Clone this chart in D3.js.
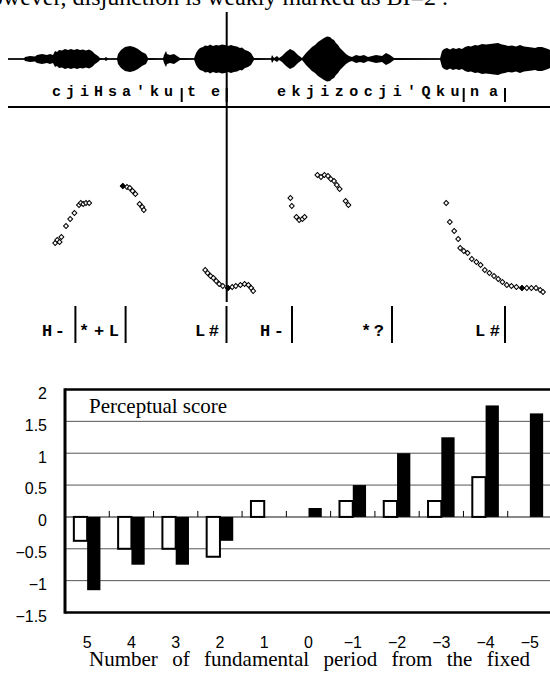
<!DOCTYPE html>
<html>
<head>
<meta charset="utf-8">
<script src="https://cdn.jsdelivr.net/npm/d3@7"></script>
<style>
body { margin: 0; background: #fff; }
svg { display: block; }
</style>
</head>
<body>
<script>
var width = 550,
	height = 673;

// ---- waveform envelope: [time (cs), amplitude] ----
var waveEnv = [
	[0,0.5],[8,0.5],[8.5,2],[11,3],[13.5,2.5],[14.5,4],[17,5],[19.5,4],[21,5],[22.5,4],
	[23.5,8],[24.5,7],[25.5,9],[27,8.5],[28.5,10],[30,9],[31.5,10],[33,9],[34.5,10],[36,9],
	[37.5,9.5],[39,8.5],[40.5,9.5],[42,8],[43.5,5],[45,3],
	[46,1],[48,0.5],[49,2],[50,0.5],[54.5,0.5],[55,5],[56.5,9],[58.5,12],[61,13],[63,12],
	[65,10],[67,7],[69,5],[70,1],[77.5,0.5],[78,4],[79,8],[79.5,5],[81,4],[83,5],
	[84.5,3],[86,1],[93,0.5],
	[94,6],[95,9],[96,11],[97.5,12],[98.5,13.5],[100,13],[101,14.5],[102.5,13],[104,14],[105.5,13.5],
	[107,14.5],[108.5,14],[110,13],[111.5,14],[113,13],[114.5,12.5],[116,11],[117,11.5],[118.5,9],[120,8],
	[121.5,6],[123,1],
	[131.5,0.5],[132,4],[133,1],[134.5,3],[135.5,1],[137,3],[139,7],[141,10],[143,8],[145,4],[147,1],
	[149,6],[150.5,9],[152,12],[153.5,14],[155,17],[156.5,19],[158,21],[159.5,22.5],[161,22],[162,20],
	[163,19],[164,16],[165,14],[166,11],[167,9],[168,7],[169,5],[170.5,3],
	[172,2],[174,4],[176,3],[178,4],[180,2],[182,3],[184,4],[187,3],[189,6],[191,4],[193,1],
	[216,0.5],[217,8],[218,10],[219.5,11],[221,9.5],[222.5,11],[224,10],[225.5,11],[227,10],[228.5,12],
	[230,13],[231.5,12.5],[233.5,14],[235,13.5],[237,15],[239,14.5],[241,15],[243,15.5],[245,16],[247,14.5],
	[248.5,14],[250,13],[252,13.5],[254,12.5],[256,14],[258,12.5],[260,12],[262,11.5],[263.5,11],[265,12],
	[267,12],[268.5,11],[270,10],[271,9]
];

// ---- F0 track: [time (cs), Hz] and the marked (filled) points ----
var pitchPts = [
	[23.6,152],[24.6,155],[25.8,153],[26.7,158],[29.0,169],[31.1,176],[33.2,182],[35.5,190],
	[36.4,192],[37.6,191],[39.0,192],[40.6,192],
	[57.4,209],[59.5,208],[60.9,207],[62.3,204],[63.7,201],[65.8,191],[67.1,188],[67.9,185],
	[98.6,125],[99.8,122],[101.3,119],[102.7,117],[104.1,114],[105.6,111],[107.4,109],[110.0,107],
	[112.1,108],[113.9,109],[116.2,110],[118.3,111],[120.2,110],[121.6,107],[122.6,104],
	[141.2,197],[141.9,189],[144.2,178],[145.6,175],[147.2,176],[148.3,178],
	[154.7,220],[156.5,218],[158.2,220],[160.0,219],[161.4,216],[163.0,214],[164.4,210],[165.8,206],
	[168.8,194],[170.2,190],
	[219.1,192],[220.9,173],[223.1,164],[225.1,156],[226.1,147],[227.9,144],[229.8,142],[231.9,136],
	[234.2,133],[236.3,130],[238.4,125],[240.7,122],[243.0,119],[245.1,116],[247.2,113],[249.4,110],
	[251.7,109],[254.2,108],[257.0,107],[259.4,107],[261.7,107],[264.0,107],[266.1,105],[267.5,103]
];
var pitchMarked = [[57.4,209],[110.0,107],[257.0,107]];

// ---- label tiers ----
var wordLabels = [
	{ t0: 22, t1: 82.5, text: "cjiHsa'ku" },
	{ t0: 89.5, t1: 106, text: "te" },
	{ t0: 134.5, t1: 225.75, text: "ekjizocji'Qku" },
	{ t0: 231, t1: 245, text: "na" }
];
var wordBounds = [86.85, 109.35, 227.85, 248.5];

var toneLabels = [
	{ t0: 17, t1: 28.5, text: "H-" },
	{ t0: 35.5, t1: 55.5, text: "*+L" },
	{ t0: 93.5, t1: 105.5, text: "L#" },
	{ t0: 126, t1: 138, text: "H-" },
	{ t0: 176.5, t1: 188, text: "*?" },
	{ t0: 233.5, t1: 246, text: "L#" }
];
var toneBounds = [33.7, 58.8, 109.25, 142, 192, 248.5];
var phraseBoundary = 109.35;

// ---- bar chart ----
var categories = ["5", "4", "3", "2", "1", "0", "\u22121", "\u22122", "\u22123", "\u22124", "\u22125"];
var scoreWhite = [-0.375, -0.5, -0.5, -0.625, 0.25, 0, 0.25, 0.25, 0.25, 0.625, 0];
var scoreBlack = [-1.15, -0.75, -0.75, -0.375, 0, 0.14, 0.5, 1.0, 1.25, 1.75, 1.625];
var yTicks = [2, 1.5, 1, 0.5, 0, -0.5, -1, -1.5];

var svg = d3.select('body')
	.append('svg')
	.attr('width', width)
	.attr('height', height);

// ================= top: waveform, F0, tiers =================
var tx = d3.scaleLinear().domain([0, 271]).range([8, 550]);
var wy = d3.scaleLinear().domain([-24, 24]).range([83, 35]);
var fy = d3.scaleLinear().domain([100, 250]).range([295, 145]);

svg.append('text')
	.attr('x', 448)
	.attr('y', 5)
	.attr('text-anchor', 'end')
	.style('font-family', '"Liberation Serif", "Times New Roman", serif')
	.style('font-size', '24px')
	.text('However, disjunction is weakly marked as BI=2 .');

svg.append('line')
	.attr('x1', tx(0)).attr('x2', tx(271))
	.attr('y1', wy(0)).attr('y2', wy(0))
	.attr('stroke', '#000')
	.attr('stroke-width', 1.5);

var area = d3.area()
	.x(function(d) { return tx(d[0]); })
	.y0(function(d) { return wy(-d[1]); })
	.y1(function(d) { return wy(d[1]); });

svg.append('path')
	.datum(waveEnv)
	.attr('d', area)
	.attr('fill', '#000');

// phrase boundary line
svg.append('line')
	.attr('x1', tx(phraseBoundary)).attr('x2', tx(phraseBoundary))
	.attr('y1', 12).attr('y2', 302)
	.attr('stroke', '#000')
	.attr('stroke-width', 2);

// separator under the word tier
svg.append('line')
	.attr('x1', tx(0)).attr('x2', tx(271))
	.attr('y1', 107).attr('y2', 107)
	.attr('stroke', '#000')
	.attr('stroke-width', 2);

function drawTier(labels, bounds, base, y1, y2, size) {
	svg.selectAll(null)
		.data(labels)
		.enter()
		.append('text')
		.attr('x', function(d) { return tx(d.t0); })
		.attr('y', base)
		.attr('textLength', function(d) { return tx(d.t1) - tx(d.t0); })
		.attr('lengthAdjust', 'spacing')
		.style('font-family', '"Liberation Mono", "DejaVu Sans Mono", monospace')
		.style('font-size', size + 'px')
		.style('font-weight', 'bold')
		.text(function(d) { return d.text; });

	svg.selectAll(null)
		.data(bounds)
		.enter()
		.append('line')
		.attr('x1', function(d) { return tx(d); })
		.attr('x2', function(d) { return tx(d); })
		.attr('y1', y1)
		.attr('y2', y2)
		.attr('stroke', '#000')
		.attr('stroke-width', 2);
}

drawTier(wordLabels, wordBounds, 96, 88, 102, 15);
drawTier(toneLabels, toneBounds, 336, 306, 343, 17);

svg.selectAll('.f0')
	.data(pitchPts)
	.enter()
	.append('path')
	.attr('class', 'f0')
	.attr('d', d3.symbol().type(d3.symbolSquare).size(12))
	.attr('transform', function(d) {
		return 'translate(' + tx(d[0]) + ',' + fy(d[1]) + ') rotate(45)';
	})
	.attr('fill', '#fff')
	.attr('stroke', '#000')
	.attr('stroke-width', 1);

svg.selectAll('.f0mark')
	.data(pitchMarked)
	.enter()
	.append('path')
	.attr('class', 'f0mark')
	.attr('d', d3.symbol().type(d3.symbolSquare).size(18))
	.attr('transform', function(d) {
		return 'translate(' + tx(d[0]) + ',' + fy(d[1]) + ') rotate(45)';
	})
	.attr('fill', '#000');

// ================= bottom: perceptual score bar chart =================
var plotL = 65, plotR = 552, plotT = 389.5, plotB = 612.5;

var x = d3.scaleBand()
	.domain(categories)
	.range([plotL, plotR]);

var sub = d3.scaleBand()
	.domain(['white', 'black'])
	.range([x.bandwidth() * 0.2, x.bandwidth() * 0.8]);

var y = d3.scaleLinear()
	.domain([-1.5, 2])
	.range([plotB, plotT]);

// grid
svg.selectAll('.grid')
	.data(yTicks.filter(function(v) { return v !== 0 && v !== 2 && v !== -1.5; }))
	.enter()
	.append('line')
	.attr('class', 'grid')
	.attr('x1', plotL).attr('x2', plotR)
	.attr('y1', function(d) { return y(d); })
	.attr('y2', function(d) { return y(d); })
	.attr('stroke', '#555')
	.attr('stroke-width', 1);

svg.append('line')
	.attr('x1', plotL).attr('x2', plotR)
	.attr('y1', y(0)).attr('y2', y(0))
	.attr('stroke', '#888')
	.attr('stroke-width', 2);

svg.selectAll('.ctick')
	.data(categories.slice(1))
	.enter()
	.append('line')
	.attr('class', 'ctick')
	.attr('x1', function(d) { return x(d); })
	.attr('x2', function(d) { return x(d); })
	.attr('y1', y(0))
	.attr('y2', y(0) - 6)
	.attr('stroke', '#000')
	.attr('stroke-width', 1);

function barData(values, key) {
	return values.map(function(v, i) {
		return { cat: categories[i], v: v, key: key };
	}).filter(function(d) { return d.v !== 0; });
}

function drawBars(data, fill, stroke) {
	svg.selectAll(null)
		.data(data)
		.enter()
		.append('rect')
		.attr('x', function(d) { return x(d.cat) + sub(d.key); })
		.attr('width', sub.bandwidth())
		.attr('y', function(d) { return y(Math.max(0, d.v)); })
		.attr('height', function(d) { return Math.abs(y(d.v) - y(0)); })
		.attr('fill', fill)
		.attr('stroke', stroke)
		.attr('stroke-width', stroke === 'none' ? 0 : 2);
}

drawBars(barData(scoreWhite, 'white'), '#fff', '#000');
drawBars(barData(scoreBlack, 'black'), '#000', 'none');

// frame
svg.append('line')
	.attr('x1', plotL).attr('x2', plotR)
	.attr('y1', plotT).attr('y2', plotT)
	.attr('stroke', '#000').attr('stroke-width', 2.5);
svg.append('line')
	.attr('x1', plotL).attr('x2', plotR)
	.attr('y1', plotB).attr('y2', plotB)
	.attr('stroke', '#000').attr('stroke-width', 2.5);
svg.append('line')
	.attr('x1', plotL).attr('x2', plotL)
	.attr('y1', plotT - 1.2).attr('y2', plotB + 1.2)
	.attr('stroke', '#000').attr('stroke-width', 3);

// axes
var yAxis = svg.append('g')
	.attr('transform', 'translate(' + plotL + ',0)')
	.call(d3.axisLeft(y).tickValues(yTicks).tickSize(0).tickPadding(18).tickFormat(d3.format('')));
yAxis.select('.domain').remove();
yAxis.selectAll('text')
	.attr('dy', '0.55em')
	.style('font-family', '"Liberation Sans", Arial, sans-serif')
	.style('font-size', '16px')
	.attr('fill', '#000');

var xAxis = svg.append('g')
	.attr('transform', 'translate(0,' + plotB + ')')
	.call(d3.axisBottom(x).tickSize(0).tickPadding(24));
xAxis.select('.domain').remove();
xAxis.selectAll('text')
	.style('font-family', '"Liberation Sans", Arial, sans-serif')
	.style('font-size', '16px')
	.attr('fill', '#000');

svg.append('text')
	.attr('x', 89)
	.attr('y', 413)
	.style('font-family', '"Liberation Serif", "Times New Roman", serif')
	.style('font-size', '21px')
	.text('Perceptual score');

var xTitle = svg.append('text')
	.attr('x', 89)
	.attr('y', 666)
	.style('font-family', '"Liberation Serif", "Times New Roman", serif')
	.style('font-size', '21px')
	.text('Number of fundamental period from the fixed');

// words are spread out to fill the line
var natural = xTitle.node().getComputedTextLength();
xTitle.style('word-spacing', ((441 - natural) / 6) + 'px');
</script>
</body>
</html>
